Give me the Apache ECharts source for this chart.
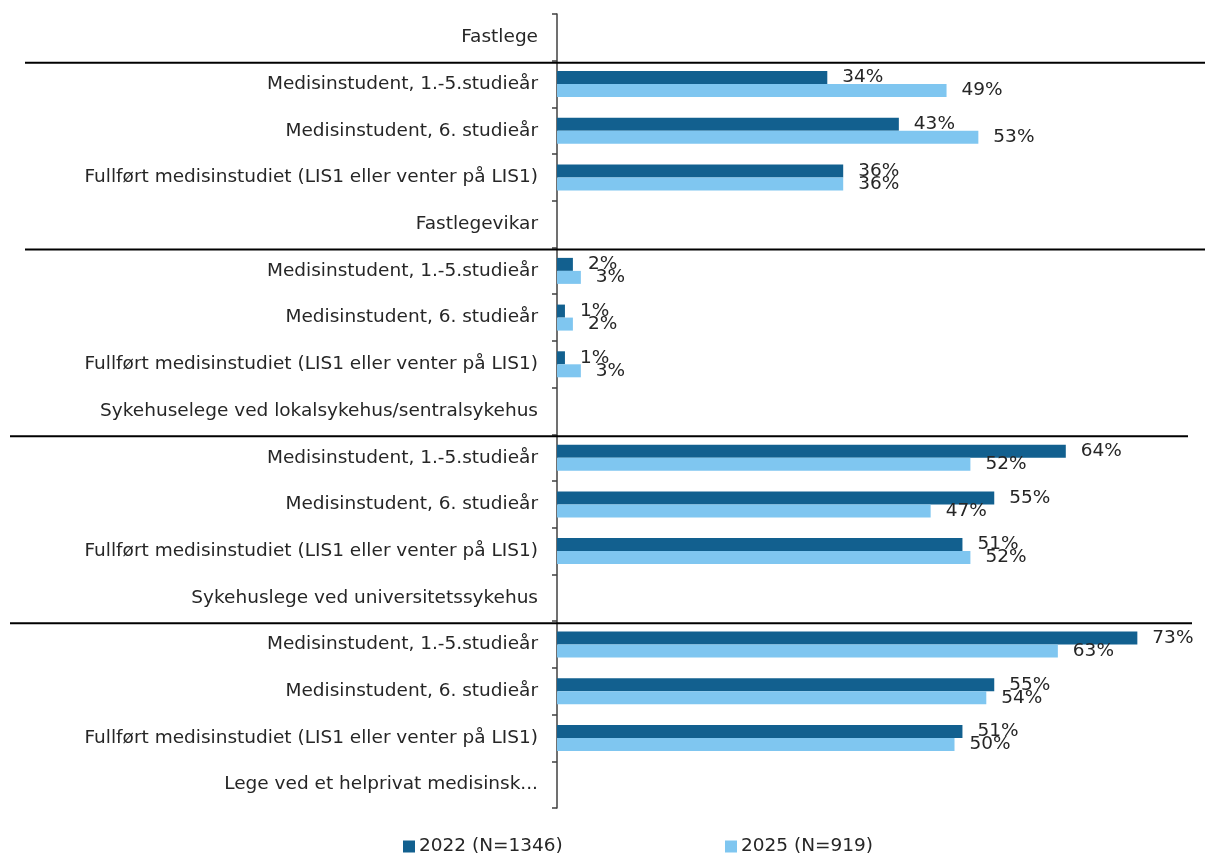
<!DOCTYPE html>
<html>
<head>
<meta charset="utf-8">
<script src="https://cdn.jsdelivr.net/npm/echarts@6/dist/echarts.min.js"></script>
<style>html,body{margin:0;padding:0;background:#fff}#c{width:1206px;height:857px}</style>
</head>
<body>
<div id="c"></div>
<script>
const categories = [
  "Fastlege",
  "Medisinstudent, 1.-5.studieår",
  "Medisinstudent, 6. studieår",
  "Fullført medisinstudiet (LIS1 eller venter på LIS1)",
  "Fastlegevikar",
  "Medisinstudent, 1.-5.studieår",
  "Medisinstudent, 6. studieår",
  "Fullført medisinstudiet (LIS1 eller venter på LIS1)",
  "Sykehuselege ved lokalsykehus/sentralsykehus",
  "Medisinstudent, 1.-5.studieår",
  "Medisinstudent, 6. studieår",
  "Fullført medisinstudiet (LIS1 eller venter på LIS1)",
  "Sykehuslege ved universitetssykehus",
  "Medisinstudent, 1.-5.studieår",
  "Medisinstudent, 6. studieår",
  "Fullført medisinstudiet (LIS1 eller venter på LIS1)",
  "Lege ved et helprivat medisinsk..."
];
const headerIndexes = [0, 4, 8, 12];
const values2022 = [null, 34, 43, 36, null, 2, 1, 1, null, 64, 55, 51, null, 73, 55, 51, null];
const values2025 = [null, 49, 53, 36, null, 3, 2, 3, null, 52, 47, 52, null, 63, 54, 50, null];
const seriesNames = ["2022 (N=1346)", "2025 (N=919)"];

const FONT = "DejaVu Sans";
const FS = 18.5;
const chart = echarts.init(document.getElementById('c'));
const labelStyle = {
  show: true, position: 'right', distance: 15,
  formatter: p => p.value + '%', color: '#262626', fontSize: FS, fontFamily: FONT
};
const legendBase = {
  top: 832, itemWidth: 12, itemHeight: 12, itemGap: 0, icon: 'rect',
  textStyle: { color: '#262626', fontSize: FS, fontFamily: FONT, padding: [0, 0, 0, -1] }
};
chart.setOption({
  animation: false,
  grid: { left: 557, right: 13, top: 14, bottom: 49, containLabel: false },
  legend: [
    Object.assign({}, legendBase, { left: 398, data: [seriesNames[0]] }),
    Object.assign({}, legendBase, { left: 720, data: [seriesNames[1]] })
  ],
  xAxis: { type: 'value', min: 0, max: 80, show: false },
  yAxis: {
    type: 'category', inverse: true, data: categories,
    axisLine: { lineStyle: { color: '#404040', width: 1.5 } },
    axisTick: { show: true, length: 5, lineStyle: { color: '#404040', width: 1.5 } },
    axisLabel: { color: '#262626', fontSize: FS, fontFamily: FONT, margin: 19 }
  },
  series: [
    { name: seriesNames[0], type: 'bar', data: values2022, barWidth: 13, barGap: '0%',
      itemStyle: { color: '#12608f' }, label: labelStyle },
    { name: seriesNames[1], type: 'bar', data: values2025, barWidth: 13, barGap: '0%',
      itemStyle: { color: '#7fc6f0' }, label: labelStyle }
  ]
});

const lineExtents = [[25, 1205], [25, 1205], [10, 1188], [10, 1192]];
const graphics = headerIndexes.map((idx, i) => {
  const y1 = chart.convertToPixel({ yAxisIndex: 0 }, idx);
  const y2 = chart.convertToPixel({ yAxisIndex: 0 }, idx + 1);
  const y = (y1 + y2) / 2 + 2;
  return {
    type: 'line', z: 100,
    shape: { x1: lineExtents[i][0], y1: y, x2: lineExtents[i][1], y2: y },
    style: { stroke: '#000', lineWidth: 2 }
  };
});
chart.setOption({ graphic: graphics });
</script>
</body>
</html>
